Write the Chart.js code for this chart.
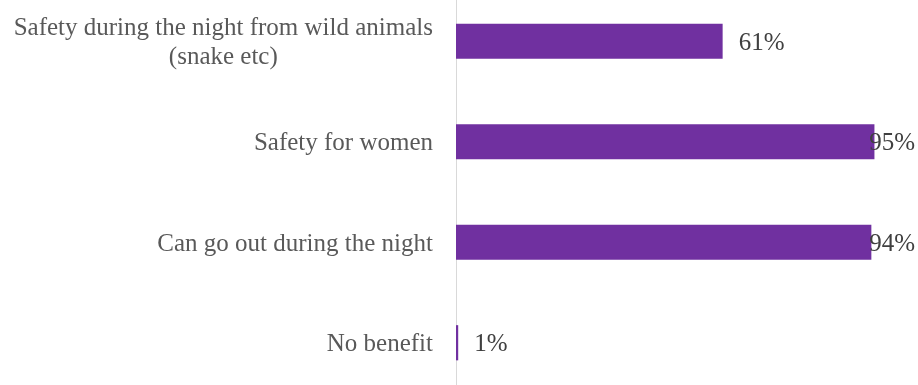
<!DOCTYPE html>
<html>
<head>
<meta charset="utf-8">
<script src="https://cdn.jsdelivr.net/npm/chart.js@4.4.0/dist/chart.umd.min.js"></script>
<style>
    html, body { margin: 0; padding: 0; background: #fff; }
    #frame { position: relative; width: 918px; height: 385px; overflow: hidden; }
    #box { position: absolute; left: 0; top: -9px; width: 918px; height: 402px; }
</style>
</head>
<body>
<div id="frame">
    <div id="box"><canvas id="benefitChart"></canvas></div>
</div>
<script>
// Data
const categories = [
    ['Safety during the night from wild animals', '(snake etc)'],
    ['Safety for women'],
    ['Can go out during the night'],
    ['No benefit']
];
const shares = [60.6, 95.1, 94.4, 0.5];
const axisMax = 100;

const labelFont = '25px "Liberation Serif", serif';

// Category names and value labels, placed from the chart's own scales
const labelPlugin = {
    id: 'labelPlugin',
    afterDatasetsDraw(chart) {
        const ctx = chart.ctx;
        const yScale = chart.scales.y;
        const xScale = chart.scales.x;
        ctx.save();
        ctx.font = labelFont;
        ctx.textBaseline = 'middle';

        // category names: block right-aligned to the axis, lines centred
        ctx.fillStyle = '#595959';
        ctx.textAlign = 'center';
        categories.forEach((lines, i) => {
            const cy = yScale.getPixelForValue(i) + 2;
            const widest = Math.max(...lines.map(l => ctx.measureText(l).width));
            const cx = xScale.left - 23 - widest / 2;
            lines.forEach((line, j) => {
                ctx.fillText(line, cx, cy + (j - (lines.length - 1) / 2) * 29);
            });
        });

        // value labels after the bar end, kept inside the canvas
        ctx.fillStyle = '#404040';
        ctx.textAlign = 'left';
        chart.getDatasetMeta(0).data.forEach((bar, i) => {
            const txt = Math.round(shares[i]) + '%';
            const w = ctx.measureText(txt).width;
            const x = Math.min(bar.x + 16, chart.width - 3 - w);
            ctx.fillText(txt, x, bar.y + 2);
        });
        ctx.restore();
    }
};

document.addEventListener('DOMContentLoaded', function() {
    const ctx = document.getElementById('benefitChart').getContext('2d');
    const benefitChart = new Chart(ctx, {
        type: 'bar',
        data: {
            labels: categories,
            datasets: [{
                data: shares,
                backgroundColor: '#7030A0',
                borderWidth: 0,
                categoryPercentage: 0.7,
                barPercentage: 0.5
            }]
        },
        options: {
            indexAxis: 'y',
            responsive: true,
            maintainAspectRatio: false,
            animation: false,
            layout: {
                padding: { left: 456, right: 22, top: 0, bottom: 0 }
            },
            scales: {
                x: {
                    display: false,
                    min: 0,
                    max: axisMax
                },
                y: {
                    ticks: { display: false },
                    grid: { display: false, drawTicks: false },
                    border: { display: true, color: '#d9d9d9', width: 1 }
                }
            },
            plugins: {
                legend: { display: false },
                tooltip: { enabled: false }
            }
        },
        plugins: [labelPlugin]
    });
});
</script>
</body>
</html>
